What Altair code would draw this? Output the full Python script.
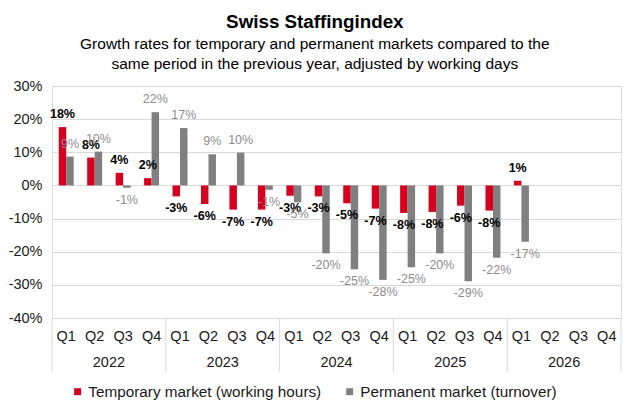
import altair as alt
import pandas as pd

years = ["2022", "2023", "2024", "2025", "2026"]
quarters = ["Q1", "Q2", "Q3", "Q4"]
series_names = ["Temporary market (working hours)", "Permanent market (turnover)"]
temp = [17.6, 8.4, 3.8, 2.2, -3.3, -5.6, -7.3, -7.3, -3.1, -3.3, -5.4, -7.0,
        -8.3, -8.0, -6.1, -7.6, 1.4, None, None, None]
perm = [8.7, 10.2, -0.7, 22.1, 17.3, 9.4, 9.9, -1.3, -5.1, -20.5, -25.3, -28.5,
        -24.7, -20.5, -28.9, -21.8, -17.0, None, None, None]
y_ticks = [-40, -30, -20, -10, 0, 10, 20, 30]

RED = "#d7001e"
GRAY = "#808080"
FONT = "Liberation Sans"

keys = [f"{y}-{q}" for y in years for q in quarters]
rows = []
for i, k in enumerate(keys):
    for s, vals in zip(series_names, [temp, perm]):
        v = vals[i]
        if v is not None:
            rows.append({"key": k, "series": s, "value": v})
df = pd.DataFrame(rows)
df["label"] = [f"{round(v):d}%" for v in df["value"]]

W = 569
H = 232

x_scale = alt.Scale(domain=keys, paddingInner=0, paddingOuter=0)
off_scale = alt.Scale(domain=series_names, paddingInner=0, paddingOuter=0.9)
y_scale = alt.Scale(domain=[-40, 30], nice=False)

x_axis = alt.Axis(title=None, labelExpr="split(datum.value, '-')[1]",
                  labelAngle=0, ticks=False, domain=False, grid=False,
                  labelFontSize=14.5, labelFont=FONT, labelColor="#1a1a1a",
                  labelPadding=11)
y_axis = alt.Axis(title=None, values=y_ticks, labelExpr="datum.value + '%'",
                  ticks=False, domain=False, grid=True, gridColor="#d9d9d9",
                  labelFontSize=14.5, labelFont=FONT, labelColor="#1a1a1a",
                  labelPadding=10, labelOverlap=False)


def xe(**kw):
    return alt.X("key:N", scale=x_scale, sort=keys, axis=x_axis, **kw)


def ye():
    return alt.Y("value:Q", scale=y_scale, axis=y_axis)


def oe():
    return alt.XOffset("series:N", scale=off_scale, sort=series_names)


base = alt.Chart(df)

bars = base.mark_bar().encode(
    x=xe(),
    xOffset=oe(),
    y=ye(),
    color=alt.Color("series:N", scale=alt.Scale(domain=series_names, range=[RED, GRAY]),
                    legend=alt.Legend(title=None, orient="none", legendX=18, legendY=298,
                                      direction="horizontal", symbolType="square",
                                      symbolSize=49, labelFontSize=15.3, labelFont=FONT,
                                      labelColor="#1a1a1a", columnPadding=20,
                                      labelOffset=3, symbolStrokeWidth=0,
                                      labelLimit=400)),
)


def labels(series, positive, color, weight, size):
    cond = "datum.value >= 0" if positive else "datum.value < 0"
    return base.transform_filter(
        f"datum.series == '{series}' && {cond}"
    ).mark_text(
        baseline="bottom" if positive else "top",
        dy=-6 if positive else 6,
        color=color, fontWeight=weight, fontSize=size, font=FONT,
    ).encode(
        x=xe(),
        xOffset=oe(),
        y=ye(),
        text="label:N",
    )


t_pos = labels(series_names[0], True, "#000000", "bold", 12.5)
t_neg = labels(series_names[0], False, "#000000", "bold", 12.5)
p_pos = labels(series_names[1], True, "#8c8c8c", "normal", 12.5)
p_neg = labels(series_names[1], False, "#8c8c8c", "normal", 12.5)

year_df = pd.DataFrame({"key": [f"{y}-Q2" for y in years], "year": years})
year_text = alt.Chart(year_df).mark_text(
    fontSize=14.5, font=FONT, color="#1a1a1a", baseline="middle"
).encode(
    x=xe(bandPosition=1),
    y=alt.value(H + 45),
    text="year:N",
)

sep_df = pd.DataFrame({"key": [f"{y}-Q1" for y in years]})
seps = alt.Chart(sep_df).mark_rule(color="#d9d9d9", strokeWidth=1).encode(
    x=xe(bandPosition=0),
    y=alt.value(H),
    y2=alt.value(H + 54),
)
end_df = pd.DataFrame({"key": [keys[-1]]})
sep_end = alt.Chart(end_df).mark_rule(color="#d9d9d9", strokeWidth=1).encode(
    x=xe(bandPosition=1),
    y=alt.value(H),
    y2=alt.value(H + 54),
)

chart = alt.layer(bars, t_pos, t_neg, p_pos, p_neg, year_text, seps, sep_end).properties(
    width=W,
    height=H,
    padding={"top": 5, "left": 0, "right": 0, "bottom": 0},
    title=alt.TitleParams(
        text="Swiss Staffingindex",
        subtitle=["Growth rates for temporary and permanent markets compared to the",
                  "same period in the previous year, adjusted by working days"],
        fontSize=18.8, font=FONT, fontWeight="bold", color="#000000",
        subtitleFontSize=15.5, subtitleFont=FONT, subtitleColor="#000000",
        subtitleLineHeight=19.5, subtitlePadding=5,
        anchor="middle", frame="bounds", offset=6,
    ),
).configure_view(stroke=None).configure(background="white")

chart.save("out.html", embed_options={"renderer": "svg", "actions": False})
